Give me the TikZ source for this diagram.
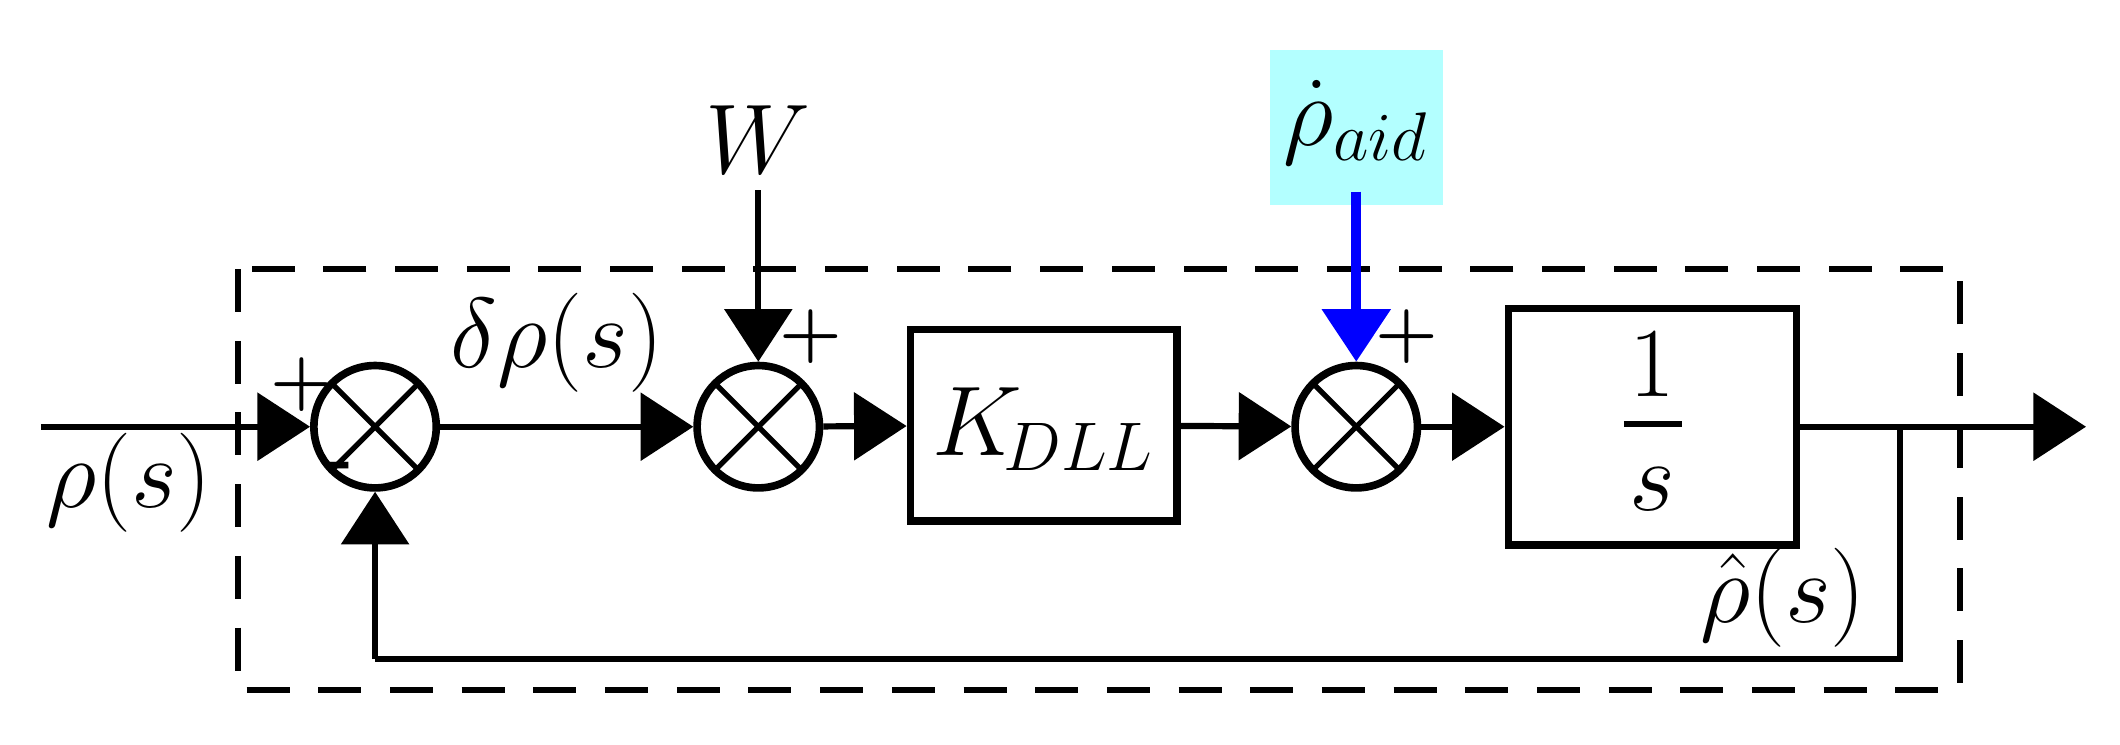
\documentclass[tikz,border=0pt]{standalone}
\usetikzlibrary{arrows.meta}
\definecolor{aidbg}{RGB}{179,255,255}
\begin{document}
\begin{tikzpicture}[x=0.01cm,y=-0.01cm,
  ln/.style={line width=1.3pt},
  arr/.style={ln,-{Triangle[length=11pt,width=14pt]}},
  sum/.style={circle,draw,line width=1.6pt,minimum size=0.9cm,inner sep=0pt,
    path picture={\draw[line width=1.1pt] ([xshift=0.13cm,yshift=0.13cm]path picture bounding box.south west) -- ([xshift=-0.13cm,yshift=-0.13cm]path picture bounding box.north east)
      ([xshift=0.13cm,yshift=-0.13cm]path picture bounding box.north west) -- ([xshift=-0.13cm,yshift=0.13cm]path picture bounding box.south east);}},
  blk/.style={draw,line width=1.6pt,inner sep=0pt},
  lab/.style={font=\fontsize{22}{24}\selectfont},
  sg/.style={font=\bfseries\fontsize{15}{16}\selectfont,inner sep=0pt}]
\useasboundingbox (0,0) rectangle (1560,548);
\draw[line width=1.3pt,dash pattern=on 9pt off 6pt] (175,198) rectangle (1442,508);
\node[sum] (s1) at (276,314) {};
\node[sum] (s2) at (558,314) {};
\node[sum] (s3) at (998,314) {};
\node[blk,minimum width=1.96cm,minimum height=1.41cm] (k) at (768,313) {};
\node[font=\fontsize{20}{22}\selectfont] at (768,316) {$K_{\!DLL}$};
\node[blk,minimum width=2.12cm,minimum height=1.74cm] (i) at (1216,314) {};
\node[lab] (one) at (1216,268) {$1$};
\node[lab] (ess) at (1216,360) {$s$};
\draw[line width=1.3pt] (1195,312) -- (1238,312);
\coordinate (in) at (30,314);
\coordinate (out) at (1535,314);
\coordinate (tap) at (1398,314);
\coordinate (fb1) at (1398,485);
\coordinate (fb2) at (276,485);
\node[lab] (w) at (558,103) {$W$};
\node[fill=aidbg,minimum width=1.27cm,minimum height=1.14cm,inner sep=0pt] (aid) at (998,94) {};
\node[lab] at (998,90) {$\dot{\rho}_{aid}$};
\coordinate (wt) at (558,140);
\coordinate (at) at (998,141);
\draw[arr] (in) -- (s1);
\draw[arr] (s1) -- (s2);
\draw[arr] (s2) -- (k);
\draw[arr] (k) -- (s3);
\draw[arr] (s3) -- (i);
\draw[arr] (i) -- (out);
\draw[ln] (tap) -- (fb1) -- (fb2);
\draw[arr] (fb2) -- (s1);
\draw[arr] (wt) -- (s2);
\draw[ln,blue,line width=2pt,-{Triangle[length=11pt,width=14pt]}] (at) -- (s3);
\node[lab] at (95,355) {$\rho(s)$};
\node[lab] at (410,252) {$\delta\rho(s)$};
\node[lab] at (1312,440) {$\hat{\rho}(s)$};
\node[sg] at (222,283) {+};
\node[sg] at (250,347) {-};
\node[sg] at (597,248) {+};
\node[sg] at (1035,248) {+};
\end{tikzpicture}
\end{document}
